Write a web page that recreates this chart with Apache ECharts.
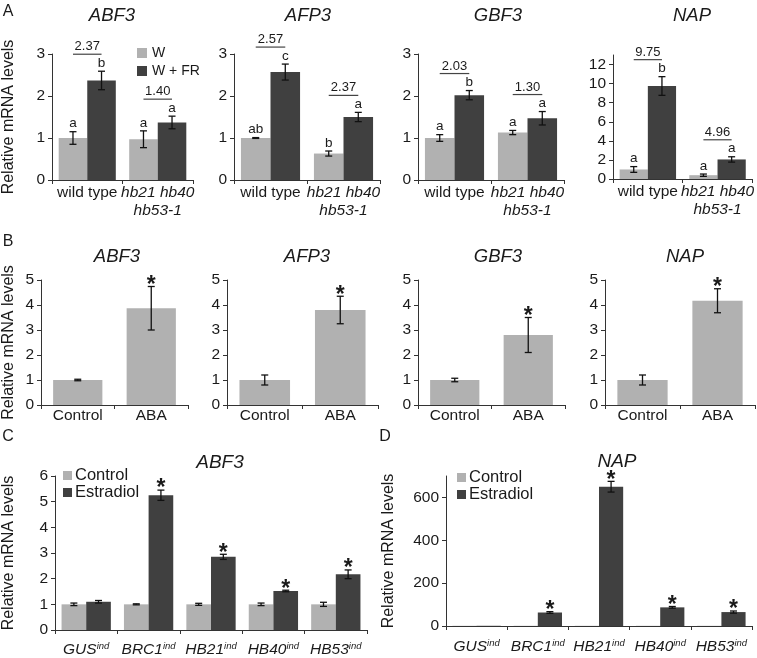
<!DOCTYPE html>
<html><head><meta charset="utf-8">
<script src="https://cdn.jsdelivr.net/npm/echarts@6/dist/echarts.min.js"></script>
<style>html,body{margin:0;padding:0;background:#fff}#c{width:757px;height:658px}</style>
</head><body><div id="c"></div>
<script>
// ---------------- DATA ----------------
// Panel A
const aGenes = ['ABF3', 'AFP3', 'GBF3', 'NAP'];
const aCats = ['wild type', 'hb21 hb40\nhb53-1'];
const aW = [[1.00, 0.97], [1.00, 0.63], [1.00, 1.13], [1.00, 0.40]];
const aWErr = [[0.15, 0.20], [0.01, 0.06], [0.08, 0.05], [0.30, 0.12]];
const aWFR = [[2.37, 1.37], [2.57, 1.50], [2.02, 1.47], [9.75, 2.05]];
const aWFRErr = [[0.22, 0.15], [0.19, 0.11], [0.11, 0.16], [0.98, 0.28]];
const aWLetters = [['a', 'a'], ['ab', 'b'], ['a', 'a'], ['a', 'a']];
const aWFRLetters = [['b', 'a'], ['c', 'a'], ['b', 'a'], ['b', 'a']];
const aFold = [['2.37', '1.40'], ['2.57', '2.37'], ['2.03', '1.30'], ['9.75', '4.96']];
const aYMax = [3, 3, 3, 13];
const aYStep = [1, 1, 1, 2];
const aSeriesNames = ['W', 'W + FR'];

// Panel B
const bGenes = ['ABF3', 'AFP3', 'GBF3', 'NAP'];
const bCats = ['Control', 'ABA'];
const bVals = [[1.00, 3.87], [1.00, 3.80], [1.00, 2.80], [1.00, 4.17]];
const bErr = [[0.03, 0.87], [0.20, 0.55], [0.07, 0.70], [0.20, 0.48]];
const bMarks = [['', '*'], ['', '*'], ['', '*'], ['', '*']];
const bYMax = 5;
const bYStep = 1;

// Panels C and D
const cdCats = ['GUS', 'BRC1', 'HB21', 'HB40', 'HB53'];
const cdSeriesNames = ['Control', 'Estradiol'];
const cGene = 'ABF3';
const cControl = [1.00, 1.00, 1.00, 1.00, 1.00];
const cControlErr = [0.05, 0.02, 0.04, 0.05, 0.08];
const cEstr = [1.10, 5.25, 2.85, 1.52, 2.17];
const cEstrErr = [0.05, 0.20, 0.10, 0.03, 0.17];
const cMarks = ['', '*', '*', '*', '*'];
const cYMax = 6, cYStep = 1;

const dGene = 'NAP';
const dControl = [1, 1, 1, 1, 1];
const dControlErr = [0, 0, 0, 0, 0];
const dEstr = [1, 63, 650, 87, 65];
const dEstrErr = [0, 4, 25, 4, 5];
const dMarks = ['', '*', '*', '*', '*'];
const dYMax = 700, dYStep = 200;

const yName = 'Relative mRNA levels';

// ---------------- STYLE / LAYOUT ----------------
const FONT = "'Liberation Sans', Arial, sans-serif";
const LIGHT = '#b1b1b1', DARK = '#404040', INK = '#1a1a1a', AXIS = '#333333';
const TICK_FS = 15.5;

const aGrids = [
  {left: 50, top: 54, width: 143, height: 126},
  {left: 234, top: 54, width: 146, height: 126},
  {left: 418, top: 54, width: 146, height: 126},
  {left: 613, top: 55, width: 140, height: 124}
];
const bGrids = [
  {left: 38, top: 280, width: 150, height: 125},
  {left: 227, top: 280, width: 151, height: 125},
  {left: 418, top: 280, width: 147, height: 125},
  {left: 605, top: 280, width: 150, height: 125}
];
const cGrid = {left: 52, top: 476, width: 315, height: 158};
const dGrid = {left: 446, top: 476, width: 306, height: 150};
const aGap = 0.19, bGap = 0.33, cGap = 0.21, dGap = 0.21;
const aTitleX = [112, 308, 498, 692], aTitleY = 16;
const bTitleX = [117, 307, 498, 685], bTitleY = 257;

// ---------------- BUILDERS ----------------
const grids = [], xAxes = [], yAxes = [], series = [], graphics = [];

function addAxes(grid, cats, max, step, fmt, rich, name, nameGap, labelMargin, showMax) {
  const gi = grids.length;
  grids.push(Object.assign({}, grid));
  xAxes.push({
    type: 'category', gridIndex: gi, data: cats,
    axisLine: {show: true, lineStyle: {color: AXIS, width: 1}},
    axisTick: {show: true, length: 4, alignWithLabel: false, lineStyle: {color: AXIS}},
    axisLabel: {interval: 0, margin: labelMargin, formatter: fmt, rich: rich, color: INK, fontFamily: FONT, fontSize: TICK_FS},
    splitLine: {show: false}
  });
  yAxes.push({
    type: 'value', gridIndex: gi, min: 0, max: max, interval: step,
    axisLine: {show: true, lineStyle: {color: AXIS, width: 1}},
    axisTick: {show: true, length: 4, inside: false, lineStyle: {color: AXIS}},
    splitLine: {show: false},
    axisLabel: {color: INK, fontFamily: FONT, fontSize: TICK_FS, margin: 7, showMaxLabel: showMax, showMinLabel: true},
    name: name || '', nameLocation: 'middle', nameGap: nameGap || 0,
    nameTextStyle: {fontFamily: FONT, fontSize: 16, color: INK}
  });
  return gi;
}

function addBars(gi, name, vals, color, gap) {
  series.push({
    type: 'bar', name: name, xAxisIndex: gi, yAxisIndex: gi, data: vals,
    barGap: '0%', barCategoryGap: Math.round(gap * 100) + '%',
    itemStyle: {color: color}, silent: true, z: 2
  });
}

function addErr(gi, vals, errs, labels, pos, n, gap, kind) {
  series.push({
    type: 'custom', xAxisIndex: gi, yAxisIndex: gi, silent: true, z: 5,
    data: vals.map((v, i) => [i, v, errs[i]]),
    renderItem: function (params, api) {
      const i = api.value(0), v = api.value(1), e = api.value(2);
      const band = api.size([1, 0])[0];
      const bw = band * (1 - gap) / n;
      const cx = api.coord([i, v])[0] + (pos - (n - 1) / 2) * bw;
      const yTop = api.coord([i, v + e])[1];
      const yBot = api.coord([i, Math.max(0, v - e)])[1];
      const ch = [];
      const st = {stroke: '#111', lineWidth: 1.3};
      if (e > 0) {
        ch.push({type: 'line', shape: {x1: cx, y1: yTop, x2: cx, y2: yBot}, style: st});
        ch.push({type: 'line', shape: {x1: cx - 3.5, y1: yTop, x2: cx + 3.5, y2: yTop}, style: st});
        ch.push({type: 'line', shape: {x1: cx - 3.5, y1: yBot, x2: cx + 3.5, y2: yBot}, style: st});
      }
      const lab = labels ? labels[params.dataIndex] : '';
      if (lab) {
        if (kind === 'star') {
          ch.push({type: 'text', style: {text: lab, x: cx, y: yTop - 1, align: 'center', verticalAlign: 'middle',
            font: 'bold 23px ' + FONT, fill: INK}});
        } else {
          ch.push({type: 'text', style: {text: lab, x: cx, y: yTop - 1, align: 'center', verticalAlign: 'bottom',
            font: '13.5px ' + FONT, fill: INK}});
        }
      }
      return {type: 'group', children: ch};
    }
  });
}

function addFold(gi, tops, texts, gap) {
  series.push({
    type: 'custom', xAxisIndex: gi, yAxisIndex: gi, silent: true, z: 6,
    data: tops.map((t, i) => [i, t]),
    renderItem: function (params, api) {
      const i = api.value(0), t = api.value(1);
      const band = api.size([1, 0])[0];
      const bw = band * (1 - gap) / 2;
      const cx = api.coord([i, 0])[0];
      const y = api.coord([i, t])[1] - 17;
      return {type: 'group', children: [
        {type: 'line', shape: {x1: cx - bw / 2, y1: y, x2: cx + bw / 2, y2: y}, style: {stroke: '#444', lineWidth: 1.2}},
        {type: 'text', style: {text: texts[params.dataIndex], x: cx, y: y - 1, align: 'center', verticalAlign: 'bottom',
          font: '13px ' + FONT, fill: INK}}
      ]};
    }
  });
}

function gText(t, x, y, size, italic) {
  graphics.push({type: 'text', x: x, y: y, silent: true,
    style: {text: t, align: 'center', verticalAlign: 'middle', fill: INK,
      font: (italic ? 'italic ' : '') + size + 'px ' + FONT}});
}

// ---------------- PANEL A ----------------
const aFmt = function (v) {
  if (v === 'wild type') return '{r|' + v + '}';
  return v.split('\n').map(s => '{i|' + s + '}').join('\n');
};
const aRich = {
  r: {fontFamily: FONT, fontSize: TICK_FS, color: INK, lineHeight: 18},
  i: {fontFamily: FONT, fontSize: TICK_FS, fontStyle: 'italic', color: INK, lineHeight: 18}
};
aGenes.forEach((g, k) => {
  const gi = addAxes(aGrids[k], aCats, aYMax[k], aYStep[k], aFmt, aRich,
    k === 0 ? yName : '', 35, 4, aYMax[k] % aYStep[k] === 0);
  addBars(gi, aSeriesNames[0], aW[k], LIGHT, aGap);
  addBars(gi, aSeriesNames[1], aWFR[k], DARK, aGap);
  addErr(gi, aW[k], aWErr[k], aWLetters[k], 0, 2, aGap, 'letter');
  addErr(gi, aWFR[k], aWFRErr[k], aWFRLetters[k], 1, 2, aGap, 'letter');
  const tops = aW[k].map((v, i) => Math.max(v + aWErr[k][i], aWFR[k][i] + aWFRErr[k][i]));
  addFold(gi, tops, aFold[k], aGap);
  gText(g, aTitleX[k], aTitleY, 18.5, true);
});

// ---------------- PANEL B ----------------
bGenes.forEach((g, k) => {
  const gi = addAxes(bGrids[k], bCats, bYMax, bYStep, null, null,
    k === 0 ? yName : '', 24, 3, true);
  addBars(gi, 'B-' + g, bVals[k], LIGHT, bGap);
  addErr(gi, bVals[k], bErr[k], bMarks[k], 0, 1, bGap, 'star');
  gText(g, bTitleX[k], bTitleY, 18.5, true);
});

// ---------------- PANELS C & D ----------------
const cdFmt = function (v) { return '{m|' + v + '}{s|ind}'; };
const cdRich = {
  m: {fontFamily: FONT, fontSize: TICK_FS, fontStyle: 'italic', color: INK, lineHeight: 18},
  s: {fontFamily: FONT, fontSize: 9.5, fontStyle: 'italic', color: INK, verticalAlign: 'top', lineHeight: 10}
};
let gi = addAxes(cGrid, cdCats, cYMax, cYStep, cdFmt, cdRich, yName, 38, 11, true);
addBars(gi, cdSeriesNames[0], cControl, LIGHT, cGap);
addBars(gi, cdSeriesNames[1], cEstr, DARK, cGap);
addErr(gi, cControl, cControlErr, null, 0, 2, cGap, 'star');
addErr(gi, cEstr, cEstrErr, cMarks, 1, 2, cGap, 'star');
gText(cGene, 220, 463, 19, true);

gi = addAxes(dGrid, cdCats, dYMax, dYStep, cdFmt, cdRich, yName, 49, 12, false);
addBars(gi, cdSeriesNames[0], dControl, LIGHT, dGap);
addBars(gi, cdSeriesNames[1], dEstr, DARK, dGap);
addErr(gi, dControl, dControlErr, null, 0, 2, dGap, 'star');
addErr(gi, dEstr, dEstrErr, dMarks, 1, 2, dGap, 'star');
gText(dGene, 617, 462, 19, true);

// panel letters
gText('A', 8, 12, 16, false);
gText('B', 8, 242, 16, false);
gText('C', 8, 437, 16, false);
gText('D', 385, 437, 16, false);

const legendBase = {orient: 'vertical', icon: 'rect', selectedMode: false, padding: 0, itemGap: 5};
const chart = echarts.init(document.getElementById('c'), null, {renderer: 'canvas'});
chart.setOption({
  animation: false,
  backgroundColor: '#fff',
  grid: grids, xAxis: xAxes, yAxis: yAxes, series: series,
  legend: [
    Object.assign({}, legendBase, {data: aSeriesNames, left: 137, top: 46, itemWidth: 10, itemHeight: 10, itemGap: 4,
      textStyle: {fontFamily: FONT, fontSize: 14, color: INK}}),
    Object.assign({}, legendBase, {data: cdSeriesNames, left: 63, top: 467, itemWidth: 9, itemHeight: 9, itemGap: 0,
      textStyle: {fontFamily: FONT, fontSize: 16.5, color: INK, padding: [0, 0, 0, -2]}}),
    Object.assign({}, legendBase, {data: cdSeriesNames, left: 457, top: 469, itemWidth: 9, itemHeight: 9, itemGap: 0,
      textStyle: {fontFamily: FONT, fontSize: 16.5, color: INK, padding: [0, 0, 0, -2]}})
  ],
  graphic: graphics
});
</script></body></html>
